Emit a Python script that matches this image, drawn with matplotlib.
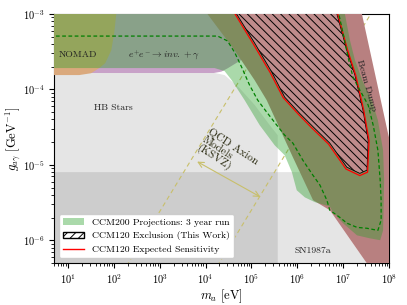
import numpy as np
import matplotlib.pyplot as plt
from matplotlib.patches import Patch
from matplotlib.lines import Line2D

plt.rcParams['font.family'] = 'serif'
plt.rcParams['font.serif'] = ['cmr10']
plt.rcParams['mathtext.fontset'] = 'cm'
plt.rcParams['axes.formatter.use_mathtext'] = True
plt.rcParams['hatch.linewidth'] = 0.7

# --- limites (m_a en eV, g en GeV^-1) ---
# HB stars
hb_m = [4, 1.6e4, 2.6e4, 5.5e4, 1.18e5, 2.5e5, 3.74e5, 3.74e5, 4]
hb_g = [1.65e-4, 1.65e-4, 1.55e-4, 1.04e-4, 6.2e-5, 3.36e-5, 2.47e-5, 3e-7, 3e-7]

# SN1987a
sn_m = [4, 1.32e6, 5.1e6, 3.3e7, 4.5e7, 4]
sn_g = [8e-6, 8e-6, 2.5e-6, 4.9e-7, 3e-7, 3e-7]

# e+e- -> inv. + gamma
ee_m = [4, 1.5e4, 2.2e4, 3.0e4, 7e4, 3e4, 4]
ee_g = [1.65e-4, 1.65e-4, 1.72e-4, 1.9e-4, 2.6e-4, 2e-3, 2e-3]

# NOMAD
nomad_m = [4, 113, 113, 102, 88, 65, 48, 32, 17.6, 4]
nomad_g = [2e-3, 2e-3, 1e-3, 5.6e-4, 3.3e-4, 2.23e-4, 1.92e-4, 1.64e-4, 1.55e-4, 1.55e-4]

# Beam dump
bd_m = [1.0e4, 1.1e4, 4.3e4, 1.17e5, 2.15e5, 8.0e5, 2.2e6, 5.1e6, 3.3e7, 4.5e7,
        2e8, 2e8, 1.3e8, 9.5e7, 2.56e7, 2.4e7]
bd_g = [2e-3, 1e-3, 3.3e-4, 1.33e-4, 7.2e-5, 1.26e-5, 3.4e-6, 2.5e-6, 4.9e-7, 3e-7,
        3e-7, 1.2e-5, 1.2e-5, 2.6e-5, 1e-3, 2e-3]

# CCM200 projections (3 ans)
ccm200_m = [4, 4, 1.57e4, 2.6e4, 3.7e4, 7.1e4, 1.51e5, 3.2e5, 5.3e5, 7.6e5, 9.7e5,
            1.46e6, 2.4e6, 5.1e6, 6.0e6, 9.9e6, 2.0e7, 3.8e7, 6.4e7, 7.4e7, 7.8e7,
            7.4e7, 5.7e7, 4.2e7, 2.6e7, 1.8e7, 1.4e7, 1.09e7, 1.05e7]
ccm200_g = [2e-3, 1.92e-4, 1.92e-4, 1.75e-4, 1.33e-4, 7.2e-5, 3.36e-5, 1.82e-5, 1.34e-5,
            8.0e-6, 4.6e-6, 3.7e-6, 3.2e-6, 2.8e-6, 2.35e-6, 1.68e-6, 1.16e-6, 1.06e-6,
            1.0e-6, 1.35e-6, 6.2e-6, 1.56e-5, 3.9e-5, 7.2e-5, 1.33e-4, 2.45e-4, 4.5e-4,
            1e-3, 2e-3]

# CCM200 contour (tirets)
dash_m = [4, 1.83e4, 3.0e4, 4.3e4, 6.1e4, 9.1e4, 1.37e5, 2.15e5, 3.56e5, 5.3e5, 8.0e5,
          1.32e6, 2.18e6, 3.1e6, 4.4e6, 5.1e6, 8.5e6, 1.21e7, 2.0e7, 3.3e7, 5.7e7,
          6.7e7, 6.7e7, 6.4e7, 5.7e7, 4.5e7, 3.5e7, 2.3e7, 1.63e7, 1.27e7, 9.9e6, 7.5e6]
dash_g = [5.1e-4, 5.1e-4, 4.4e-4, 3.1e-4, 1.98e-4, 1.14e-4, 7.2e-5, 5.0e-5, 3.36e-5,
          2.47e-5, 1.94e-5, 1.15e-5, 7.3e-6, 5.4e-6, 3.4e-6, 2.5e-6, 2.0e-6, 1.68e-6,
          1.48e-6, 1.44e-6, 1.35e-6, 1.84e-6, 3.4e-6, 6.2e-6, 1.56e-5, 3.36e-5, 6.2e-5,
          9.8e-5, 1.46e-4, 2.7e-4, 5.6e-4, 1.2e-3]

# CCM120 exclusion (hachures)
ccm120_m = [4.6e4, 4.75e4, 1.18e5, 2.77e5, 5.3e5, 1.13e6, 2.2e6, 5.1e6, 1.2e7, 2.3e7,
            3.3e7, 3.5e7, 2.7e7, 1.8e7, 1.2e7, 7.3e6, 7.1e6]
ccm120_g = [2e-3, 1e-3, 4.1e-4, 1.7e-4, 7.9e-5, 4.8e-5, 3.2e-5, 1.94e-5, 9.3e-6, 7.7e-6,
            8.5e-6, 2.1e-5, 5.3e-5, 1.55e-4, 3.3e-4, 1e-3, 2e-3]

# CCM120 sensibilite attendue
sens_m = [4.3e4, 4.4e4, 1.1e5, 2.55e5, 4.9e5, 1.05e6, 2.05e6, 4.8e6, 1.15e7, 2.3e7,
          3.4e7, 3.65e7, 2.8e7, 1.87e7, 1.25e7, 7.6e6, 7.4e6]
sens_g = [2e-3, 1e-3, 4.0e-4, 1.68e-4, 7.8e-5, 4.7e-5, 3.1e-5, 1.88e-5, 8.8e-6, 7.2e-6,
          8.0e-6, 2.1e-5, 5.3e-5, 1.55e-4, 3.3e-4, 1e-3, 2e-3]

# bande QCD axion (KSVZ) : log10(g/m)
qcd_log_coef = [-8.62, -10.6]

x_ticks = [1e1, 1e2, 1e3, 1e4, 1e5, 1e6, 1e7, 1e8]
y_ticks = [1e-6, 1e-5, 1e-4, 1e-3]

col_red = '#b88080'
col_green = '#2ca02c'
col_qcd = '#c8bf6a'

fig, ax = plt.subplots(figsize=(4.07, 3.05), dpi=100)
fig.subplots_adjust(left=0.133, right=0.956, bottom=0.138, top=0.954)

ax.fill(hb_m, hb_g, color='k', alpha=0.1, lw=0, zorder=1)
ax.fill(sn_m, sn_g, color='k', alpha=0.1, lw=0, zorder=1)

m_line = np.array([1.0, 1e9])
for c in qcd_log_coef:
    ax.plot(m_line, 10**c * m_line, color=col_qcd, ls=(0, (4, 3)), lw=0.8, zorder=2)
ax.annotate('', xy=(1.76e5, 3.6e-6), xytext=(5.8e3, 1.15e-5),
            arrowprops=dict(arrowstyle='<->', color=col_qcd, lw=0.8), zorder=2)

ax.fill(ee_m, ee_g, color='#c8a2c8', lw=0, zorder=3)
ax.fill(nomad_m, nomad_g, color='#daa97d', lw=0, zorder=4)
ax.fill(bd_m, bd_g, color=col_red, lw=0, zorder=5)
ax.fill(ccm200_m, ccm200_g, color=col_green, alpha=0.4, lw=0, zorder=6)
ax.fill(ccm120_m, ccm120_g, facecolor='#bf8c8c', lw=0, zorder=7)
ax.fill(ccm120_m, ccm120_g, facecolor='none', edgecolor='k', hatch='\\\\\\\\', lw=0.6, zorder=8)
ax.plot(sens_m, sens_g, color='red', lw=0.9, zorder=9)
ax.plot(dash_m, dash_g, color='green', ls=(0, (3, 2)), lw=0.9, zorder=9)

txt = dict(fontsize=7, color='#222222', zorder=10)
ax.text(6.4, 2.85e-4, 'NOMAD', ha='left', va='center', **txt)
ax.text(1.2e3, 2.85e-4, r'$e^{+}e^{-}\rightarrow inv. + \gamma$', ha='center', va='center', **txt)
ax.text(1.0e2, 5.65e-5, 'HB Stars', ha='center', va='center', **txt)
ax.text(2.2e6, 7.3e-7, 'SN1987a', ha='center', va='center', **txt)
ax.text(3.15e7, 1.14e-4, 'Beam Dump', ha='center', va='center', rotation=-74, **txt)
ax.text(3.0e4, 1.35e-5, 'QCD Axion\nModels\n(KSVZ)', ha='center', va='center',
        rotation=-33, multialignment='left', linespacing=1.0,
        fontsize=8, color='#2a2a10', zorder=10)

ax.set_xscale('log')
ax.set_yscale('log')
ax.set_xticks(x_ticks)
ax.set_yticks(y_ticks)
ax.set_xlim(5, 1e8)
ax.set_ylim(5e-7, 1e-3)
ax.set_xlabel(r'$m_a\ [\mathrm{eV}]$', fontsize=9, labelpad=1)
ax.set_ylabel(r'$g_{a\gamma}\ [\mathrm{GeV}^{-1}]$', fontsize=9, labelpad=0)
ax.tick_params(labelsize=7.5)

handles = [Patch(facecolor=col_green, alpha=0.4, lw=0),
           Patch(facecolor='white', edgecolor='k', hatch='////', lw=1),
           Line2D([], [], color='red', lw=1)]
labels = ['CCM200 Projections: 3 year run', 'CCM120 Exclusion (This Work)',
          'CCM120 Expected Sensitivity']
ax.legend(handles, labels, loc='lower left', fontsize=7, framealpha=1,
          handlelength=2.2, borderaxespad=0.5)

fig.savefig('out.png', dpi=100)
